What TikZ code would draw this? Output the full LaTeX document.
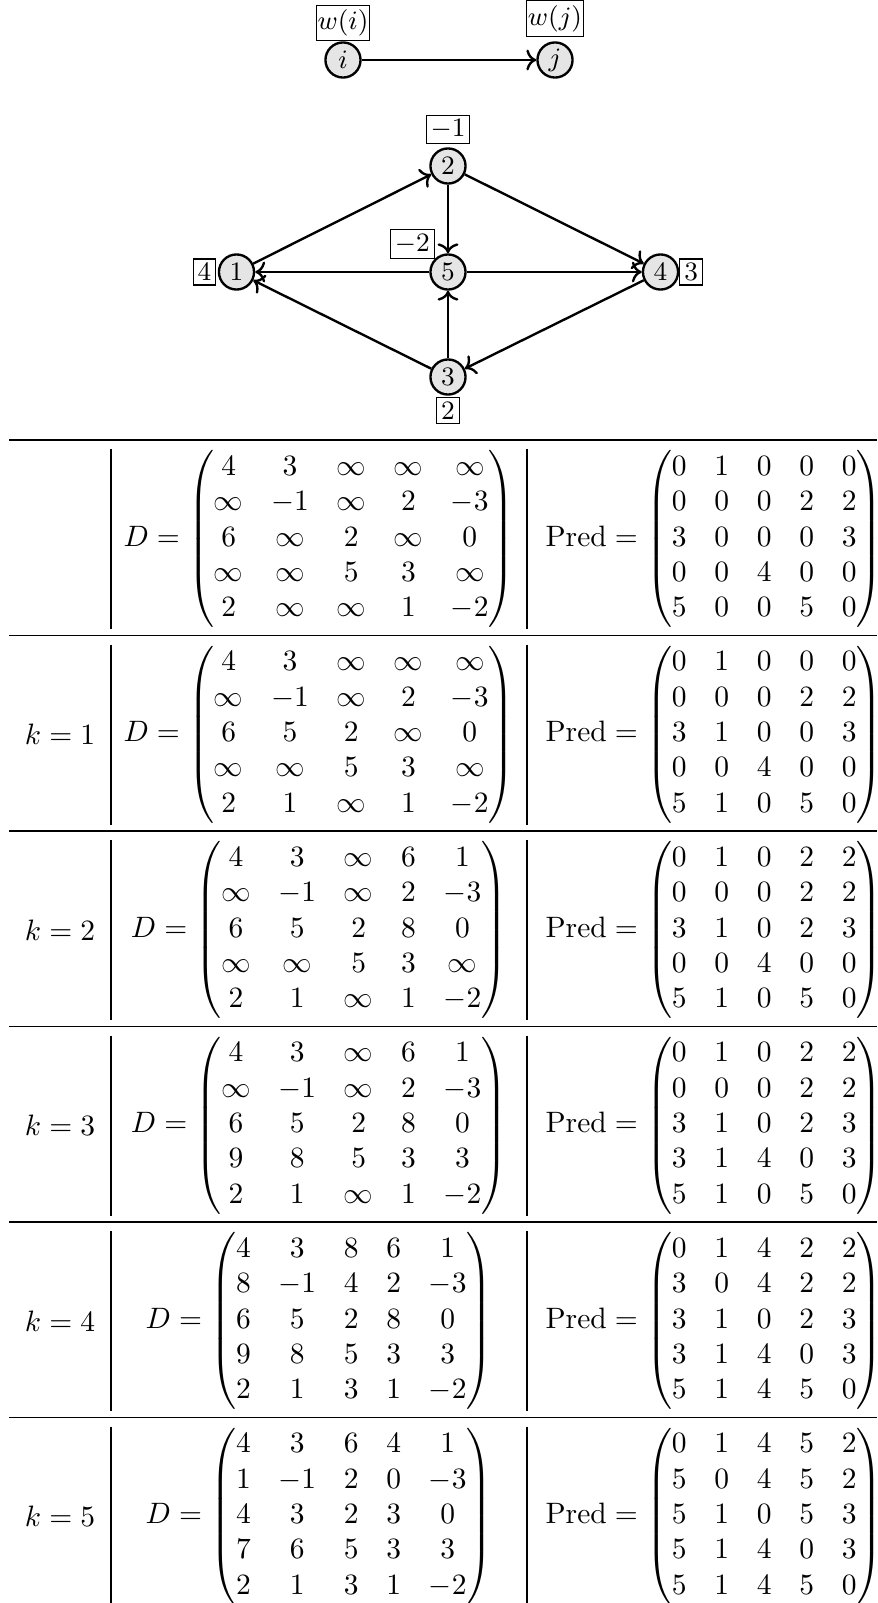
\documentclass[tikz,border=0pt]{standalone}
\usepackage{amsmath}
\usepackage{amssymb}
\usepackage{xcolor}
\usetikzlibrary{positioning,arrows.meta}
\setlength{\arraycolsep}{4.7pt}

\begin{document}
\begin{tikzpicture}[
    x=0.339pt, y=-0.339pt,
    vert/.style      ={circle, draw, thick, fill=gray!20, minimum size=11.9pt, inner sep=0pt, font=\small},
    wbox/.style      ={rectangle, draw, line width=0.4pt, inner sep=1.5pt, font=\small},
    link/.style      ={->, thick},
    topline/.style   ={line width=0.8pt},
    midline/.style   ={line width=0.5pt},
    colline/.style   ={line width=0.4pt},
    klab/.style      ={inner sep=0pt},
    mat/.style       ={inner sep=0pt}
  ]
    % page: 877 x 1603 units, y runs downwards
    \useasboundingbox (0,0) rectangle (877,1603);
    \clip (0,0) rectangle (877,1603);

    % --- legend: edge i -> j with weights ---
    \node[vert] (i) at (343,60) {$i$};
    \node[vert] (j) at (555,60) {$j$};
    \node[wbox, inner xsep=0.5pt, above=0pt of i] (wi) {$w(i)$};
    \node[wbox, inner xsep=0.5pt, above=1.5pt of j] (wj) {$w(j)$};
    \draw[link] (i) -- (j);

    % --- example graph ---
    \node[vert] (n2) at (448,166) {2};
    \node[vert] (n5) at (448,272) {5};
    \node[vert] (n1) at (236.5,272) {1};
    \node[vert] (n4) at (660.5,272) {4};
    \node[vert] (n3) at (448,377) {3};

    \node[wbox, above=1pt of n2] (w2) {$-1$};
    \node[wbox, above left=0pt of n5] (w5) {$-2$};
    \node[wbox, left=0.5pt of n1] (w1) {$4$};
    \node[wbox, right=0pt of n4] (w4) {$3$};
    \node[wbox, below=0.5pt of n3] (w3) {$2$};

    \foreach \a/\b in {n1/n2, n2/n5, n2/n4, n5/n1, n5/n4, n3/n1, n3/n5, n4/n3} {
      \draw[link] (\a) -- (\b);
    }

    % --- table of iterations ---
    % row height and first rule
    \def\rowh{195.5}
    \def\ytop{440}
    \def\xa{111} % first column rule
    \def\xb{527} % second column rule
    \def\xd{319} % centre of D column
    \def\xp{714} % centre of Pred column

    \draw[topline] (9,\ytop) -- (877,\ytop);
    \foreach \r in {1,...,5} {
      \draw[midline] (9,\ytop+\r*\rowh) -- (877,\ytop+\r*\rowh);
    }
    \foreach \r in {0,...,5} {
      \draw[colline] (\xa,\ytop+\r*\rowh+9) -- (\xa,\ytop+\r*\rowh+\rowh-6.5);
      \draw[colline] (\xb,\ytop+\r*\rowh+9) -- (\xb,\ytop+\r*\rowh+\rowh-6.5);
    }

    % row 0: start
    \node[mat] (d0) at (\xd,539) {$D = \begin{pmatrix}
      4 & 3 & \infty & \infty & \infty \\
      \infty & -1 & \infty & 2 & -3 \\
      6 & \infty & 2 & \infty & 0 \\
      \infty & \infty & 5 & 3 & \infty \\
      2 & \infty & \infty & 1 & -2
    \end{pmatrix}$};
    \node[mat] (p0) at (\xp,539) {$\text{Pred} = \begin{pmatrix}
      0 & 1 & 0 & 0 & 0 \\
      0 & 0 & 0 & 2 & 2 \\
      3 & 0 & 0 & 0 & 3 \\
      0 & 0 & 4 & 0 & 0 \\
      5 & 0 & 0 & 5 & 0
    \end{pmatrix}$};

    % row 1
    \node[klab] (k1) at (60,734.5) {$k=1$};
    \node[mat] (d1) at (\xd,734.5) {$D = \begin{pmatrix}
      4 & 3 & \infty & \infty & \infty \\
      \infty & -1 & \infty & 2 & -3 \\
      6 & 5 & 2 & \infty & 0 \\
      \infty & \infty & 5 & 3 & \infty \\
      2 & 1 & \infty & 1 & -2
    \end{pmatrix}$};
    \node[mat] (p1) at (\xp,734.5) {$\text{Pred} = \begin{pmatrix}
      0 & 1 & 0 & 0 & 0 \\
      0 & 0 & 0 & 2 & 2 \\
      3 & 1 & 0 & 0 & 3 \\
      0 & 0 & 4 & 0 & 0 \\
      5 & 1 & 0 & 5 & 0
    \end{pmatrix}$};

    % row 2
    \node[klab] (k2) at (60,930) {$k=2$};
    \node[mat] (d2) at (\xd,930) {$D = \begin{pmatrix}
      4 & 3 & \infty & 6 & 1 \\
      \infty & -1 & \infty & 2 & -3 \\
      6 & 5 & 2 & 8 & 0 \\
      \infty & \infty & 5 & 3 & \infty \\
      2 & 1 & \infty & 1 & -2
    \end{pmatrix}$};
    \node[mat] (p2) at (\xp,930) {$\text{Pred} = \begin{pmatrix}
      0 & 1 & 0 & 2 & 2 \\
      0 & 0 & 0 & 2 & 2 \\
      3 & 1 & 0 & 2 & 3 \\
      0 & 0 & 4 & 0 & 0 \\
      5 & 1 & 0 & 5 & 0
    \end{pmatrix}$};

    % row 3
    \node[klab] (k3) at (60,1125.5) {$k=3$};
    \node[mat] (d3) at (\xd,1125.5) {$D = \begin{pmatrix}
      4 & 3 & \infty & 6 & 1 \\
      \infty & -1 & \infty & 2 & -3 \\
      6 & 5 & 2 & 8 & 0 \\
      9 & 8 & 5 & 3 & 3 \\
      2 & 1 & \infty & 1 & -2
    \end{pmatrix}$};
    \node[mat] (p3) at (\xp,1125.5) {$\text{Pred} = \begin{pmatrix}
      0 & 1 & 0 & 2 & 2 \\
      0 & 0 & 0 & 2 & 2 \\
      3 & 1 & 0 & 2 & 3 \\
      3 & 1 & 4 & 0 & 3 \\
      5 & 1 & 0 & 5 & 0
    \end{pmatrix}$};

    % row 4
    \node[klab] (k4) at (60,1321) {$k=4$};
    \node[mat] (d4) at (\xd,1321) {$D = \begin{pmatrix}
      4 & 3 & 8 & 6 & 1 \\
      8 & -1 & 4 & 2 & -3 \\
      6 & 5 & 2 & 8 & 0 \\
      9 & 8 & 5 & 3 & 3 \\
      2 & 1 & 3 & 1 & -2
    \end{pmatrix}$};
    \node[mat] (p4) at (\xp,1321) {$\text{Pred} = \begin{pmatrix}
      0 & 1 & 4 & 2 & 2 \\
      3 & 0 & 4 & 2 & 2 \\
      3 & 1 & 0 & 2 & 3 \\
      3 & 1 & 4 & 0 & 3 \\
      5 & 1 & 4 & 5 & 0
    \end{pmatrix}$};

    % row 5
    \node[klab] (k5) at (60,1516.5) {$k=5$};
    \node[mat] (d5) at (\xd,1516.5) {$D = \begin{pmatrix}
      4 & 3 & 6 & 4 & 1 \\
      1 & -1 & 2 & 0 & -3 \\
      4 & 3 & 2 & 3 & 0 \\
      7 & 6 & 5 & 3 & 3 \\
      2 & 1 & 3 & 1 & -2
    \end{pmatrix}$};
    \node[mat] (p5) at (\xp,1516.5) {$\text{Pred} = \begin{pmatrix}
      0 & 1 & 4 & 5 & 2 \\
      5 & 0 & 4 & 5 & 2 \\
      5 & 1 & 0 & 5 & 3 \\
      5 & 1 & 4 & 0 & 3 \\
      5 & 1 & 4 & 5 & 0
    \end{pmatrix}$};
  \end{tikzpicture}
\end{document}
